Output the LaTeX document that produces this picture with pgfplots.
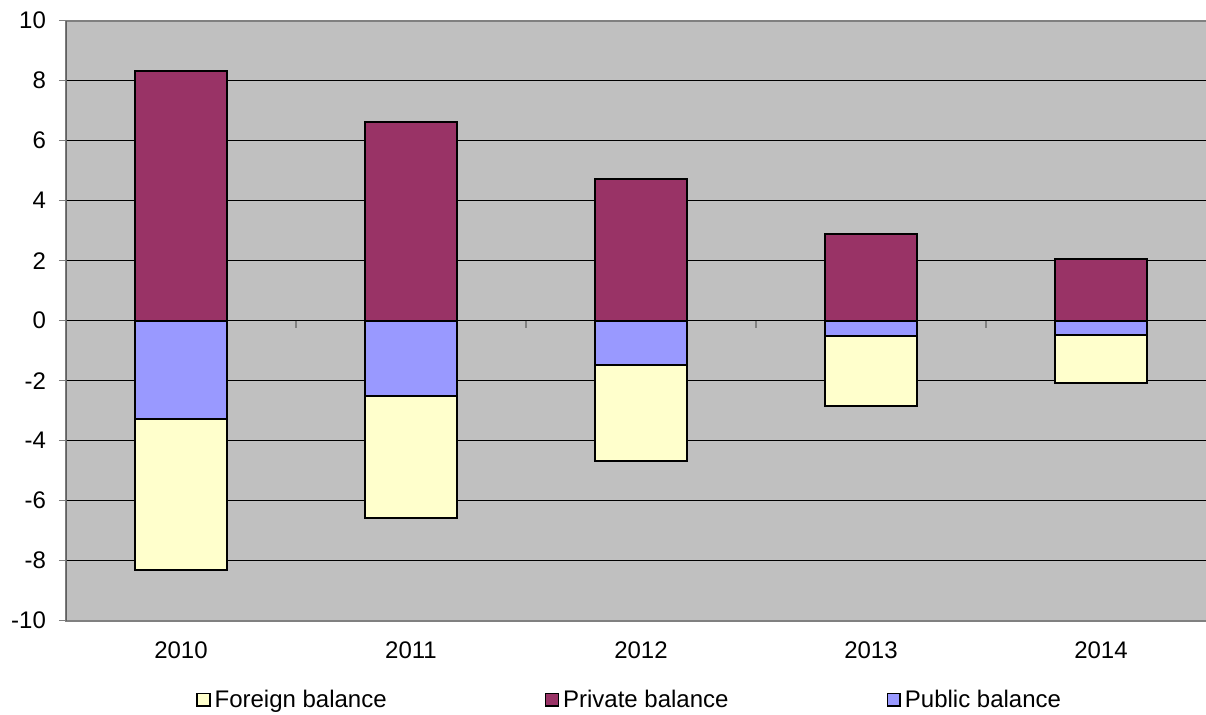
\documentclass[border=0pt]{standalone}
\usepackage{fontspec}
\setmainfont{Liberation Sans}
\usepackage{pgfplots}
\pgfplotsset{compat=1.18}

\definecolor{plotbg}{HTML}{C0C0C0}
\definecolor{foreign}{HTML}{FFFFCC}
\definecolor{private}{HTML}{993366}
\definecolor{public}{HTML}{9999FF}
\definecolor{frame}{HTML}{808080}
\definecolor{yaxis}{HTML}{5F5F5F}

\begin{document}
\begin{tikzpicture}
\begin{axis}[
    name=ax,
    width=575pt, height=300pt,
    scale only axis,
    ybar, bar shift=0pt,
    bar width=0.4,
    xmin=-0.5, xmax=4.5,
    ymin=-10, ymax=10,
    ytick={-10,-8,...,10},
    xtick={0,1,2,3,4},
    xticklabels={2010,2011,2012,2013,2014},
    x tick style={draw=none},
    y tick style={frame, line width=0.8pt},
    tick align=outside,
    major tick length=3.5pt,
    ymajorgrids,
    grid style={black, line width=0.5pt},
    axis background/.style={fill=plotbg},
    axis line style={frame, line width=1pt},
    tick label style={font=\fontsize{12}{14}\selectfont},
    /pgf/number format/assume math mode=true,
    yticklabel style={xshift=-3pt},
    xticklabel style={yshift=-3.5pt},
    legend style={at={(0.491,-0.132)}, anchor=center, legend columns=3,
        draw=none, fill=none, font=\fontsize{12}{14}\selectfont,
        nodes={inner xsep=2pt},
        /tikz/every odd column/.append style={column sep=0pt},
        /tikz/every even column/.append style={column sep=77pt}},
    legend image code/.code={\draw[#1, line width=0.8pt] (0pt,-3.2pt) rectangle (6.4pt,3.2pt);},
    legend cell align=left,
]
% totals below zero (foreign + public); public drawn over it
\addplot[fill=foreign, draw=black, line width=1pt] coordinates {(0,-8.31) (1,-6.58) (2,-4.69) (3,-2.86) (4,-2.07)};
\addplot[fill=private, draw=black, line width=1pt] coordinates {(0,8.33) (1,6.61) (2,4.72) (3,2.88) (4,2.07)};
\addplot[fill=public, draw=black, line width=1pt] coordinates {(0,-3.28) (1,-2.51) (2,-1.48) (3,-0.5) (4,-0.48)};
\legend{Foreign balance, Private balance, Public balance}
\draw[black, line width=0.6pt] (axis cs:-0.5,0) -- (axis cs:4.5,0);
\draw[yaxis, line width=1pt] (axis cs:-0.5,-10) -- (axis cs:-0.5,10);
\pgfplotsinvokeforeach{0.5,1.5,2.5,3.5}{
  \draw[frame, line width=0.8pt] (axis cs:#1,0) -- ([yshift=-3.5pt]axis cs:#1,0);
}
\end{axis}
\pgfresetboundingbox
\path[use as bounding box] ([xshift=-33pt,yshift=10.35pt]ax.north west)
  rectangle ([xshift=570pt,yshift=-47.15pt]ax.south west);
\end{tikzpicture}
\end{document}
